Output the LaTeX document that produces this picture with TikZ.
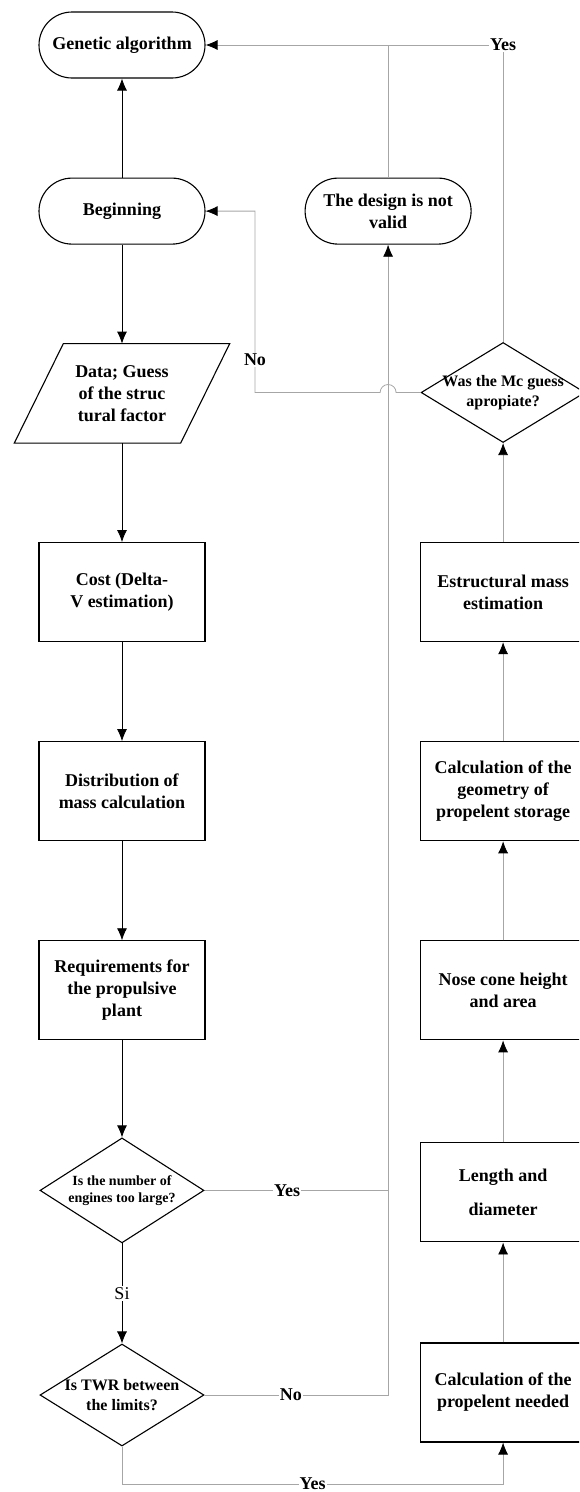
\documentclass[tikz,border=0pt]{standalone}
\usepackage{fontspec}
\setmainfont{Liberation Serif}
\usetikzlibrary{positioning,shapes.geometric,arrows.meta}
\newcommand{\boxfont}{\bfseries\fontsize{18}{22}\selectfont}
\newcommand{\askfont}{\bfseries\fontsize{16}{20}\selectfont}
\newcommand{\smallask}{\bfseries\fontsize{14}{17}\selectfont}
\tikzset{
  term/.style={draw, line width=1.1pt, rectangle, rounded corners=33pt, minimum width=166pt, minimum height=66pt, align=center, font=\boxfont},
  proc/.style={draw, line width=1.1pt, rectangle, minimum width=166pt, minimum height=99pt, align=center, font=\boxfont, inner sep=2pt},
  io/.style={rectangle, minimum width=166pt, minimum height=99pt, align=center, font=\boxfont, inner sep=2pt},
  decide/.style={draw, line width=1.1pt, diamond, minimum width=164pt, minimum height=102pt, inner sep=0pt},
  flow/.style={line width=0.8pt, -{Latex[length=12pt,width=10pt]}},
  link/.style={gray!70, line width=0.8pt},
  arr/.style={-{Latex[length=12pt,width=10pt,color=black]}},
  lbl/.style={fill=white, text=black, inner sep=1pt, font=\boxfont}
}
\begin{document}
\begin{tikzpicture}[x=1pt, y=-1pt]
            \path[clip, use as bounding box] (0,0) rectangle (579,1492);
            \def\gap{99pt}

            % left column
            \draw node (gen) [term] at (122,45) {Genetic algorithm};
            \draw node (begin) [term, below = \gap of gen] {Beginning};
            \draw node (data) [io, below = \gap of begin] {Data; Guess\\of the struc\\tural factor};
            \draw[line width=1.1pt] ([xshift=-24.5pt]data.south west) -- ([xshift=-24.5pt]data.south east) -- ([xshift=24.5pt]data.north east) -- ([xshift=24.5pt]data.north west) -- cycle;
            \draw node (cost) [proc, below = \gap of data] {Cost (Delta-\\V estimation)};
            \draw node (dist) [proc, below = \gap of cost] {Distribution of\\mass calculation};
            \draw node (req) [proc, below = \gap of dist] {Requirements for\\the propulsive\\plant};
            \draw node (num) [decide, below = 97pt of req, minimum height=105pt,
              label={[align=center, font=\smallask]center:{Is the number of\\engines too large?}}] {};
            \draw node (twr) [decide, below = 100pt of num,
              label={[align=center, font=\askfont]center:{Is TWR between\\the limits?}}] {};

            % right column
            \draw node (design) [term, right = \gap of begin] {The design is not\\valid};
            \draw node (est) [proc, right = 214pt of cost] {Estructural mass\\estimation};
            \draw node (mc) [decide, above = 99pt of est, minimum height=100pt,
              label={[align=center, font=\askfont]center:{Was the Mc guess\\apropiate?}}] {};
            \draw node (geo) [proc, below = \gap of est] {Calculation of the\\geometry of\\propelent storage};
            \draw node (nose) [proc, below = \gap of geo] {Nose cone height\\and area};
            \draw node (len) [proc, below = 102pt of nose] {Length and\\[12pt]diameter};
            \draw node (prop) [proc, below = 100pt of len] {Calculation of the\\propelent needed};

            \coordinate (hop) at (design.south |- mc.west);
            \coordinate (noleg) at (255,300);
            \coordinate (base) at (0,1484);

            % main flow
            \draw[flow] (begin) -- (gen);
            \draw[flow] (begin) -- (data);
            \draw[flow] (data) -- (cost);
            \draw[flow] (cost) -- (dist);
            \draw[flow] (dist) -- (req);
            \draw[flow] (req) -- (num);
            \draw[flow] (num) -- node[lbl, font=\fontsize{18}{22}\selectfont] {Si} (twr);

            % way back
            \draw[link] (num.east) -- node[lbl, pos=0.45] {Yes} (num.east -| design.south);
            \draw[link, arr] (twr.east) -- node[lbl, pos=0.47] {No} (twr.east -| design.south) -- (design.south);
            \draw[link] (design.north) -- (design.north |- gen.east);
            \draw[link, arr] (mc.north) |- node[lbl] {Yes} (gen.east);
            \draw[link, arr] (mc.west) -- ([xshift=8pt]hop) arc[start angle=0, end angle=180, radius=8pt]
              -- (hop -| noleg) -- node[lbl, pos=0.18] {No} (noleg |- begin.east) -- (begin.east);
            \draw[link, arr] (twr.south) -- (twr.south |- base) -- node[lbl] {Yes} (prop.south |- base) -- (prop.south);

            % right column upwards
            \draw[link, arr] (prop) -- (len);
            \draw[link, arr] (len) -- (nose);
            \draw[link, arr] (nose) -- (geo);
            \draw[link, arr] (geo) -- (est);
            \draw[link, arr] (est) -- (mc);
\end{tikzpicture}
\end{document}
